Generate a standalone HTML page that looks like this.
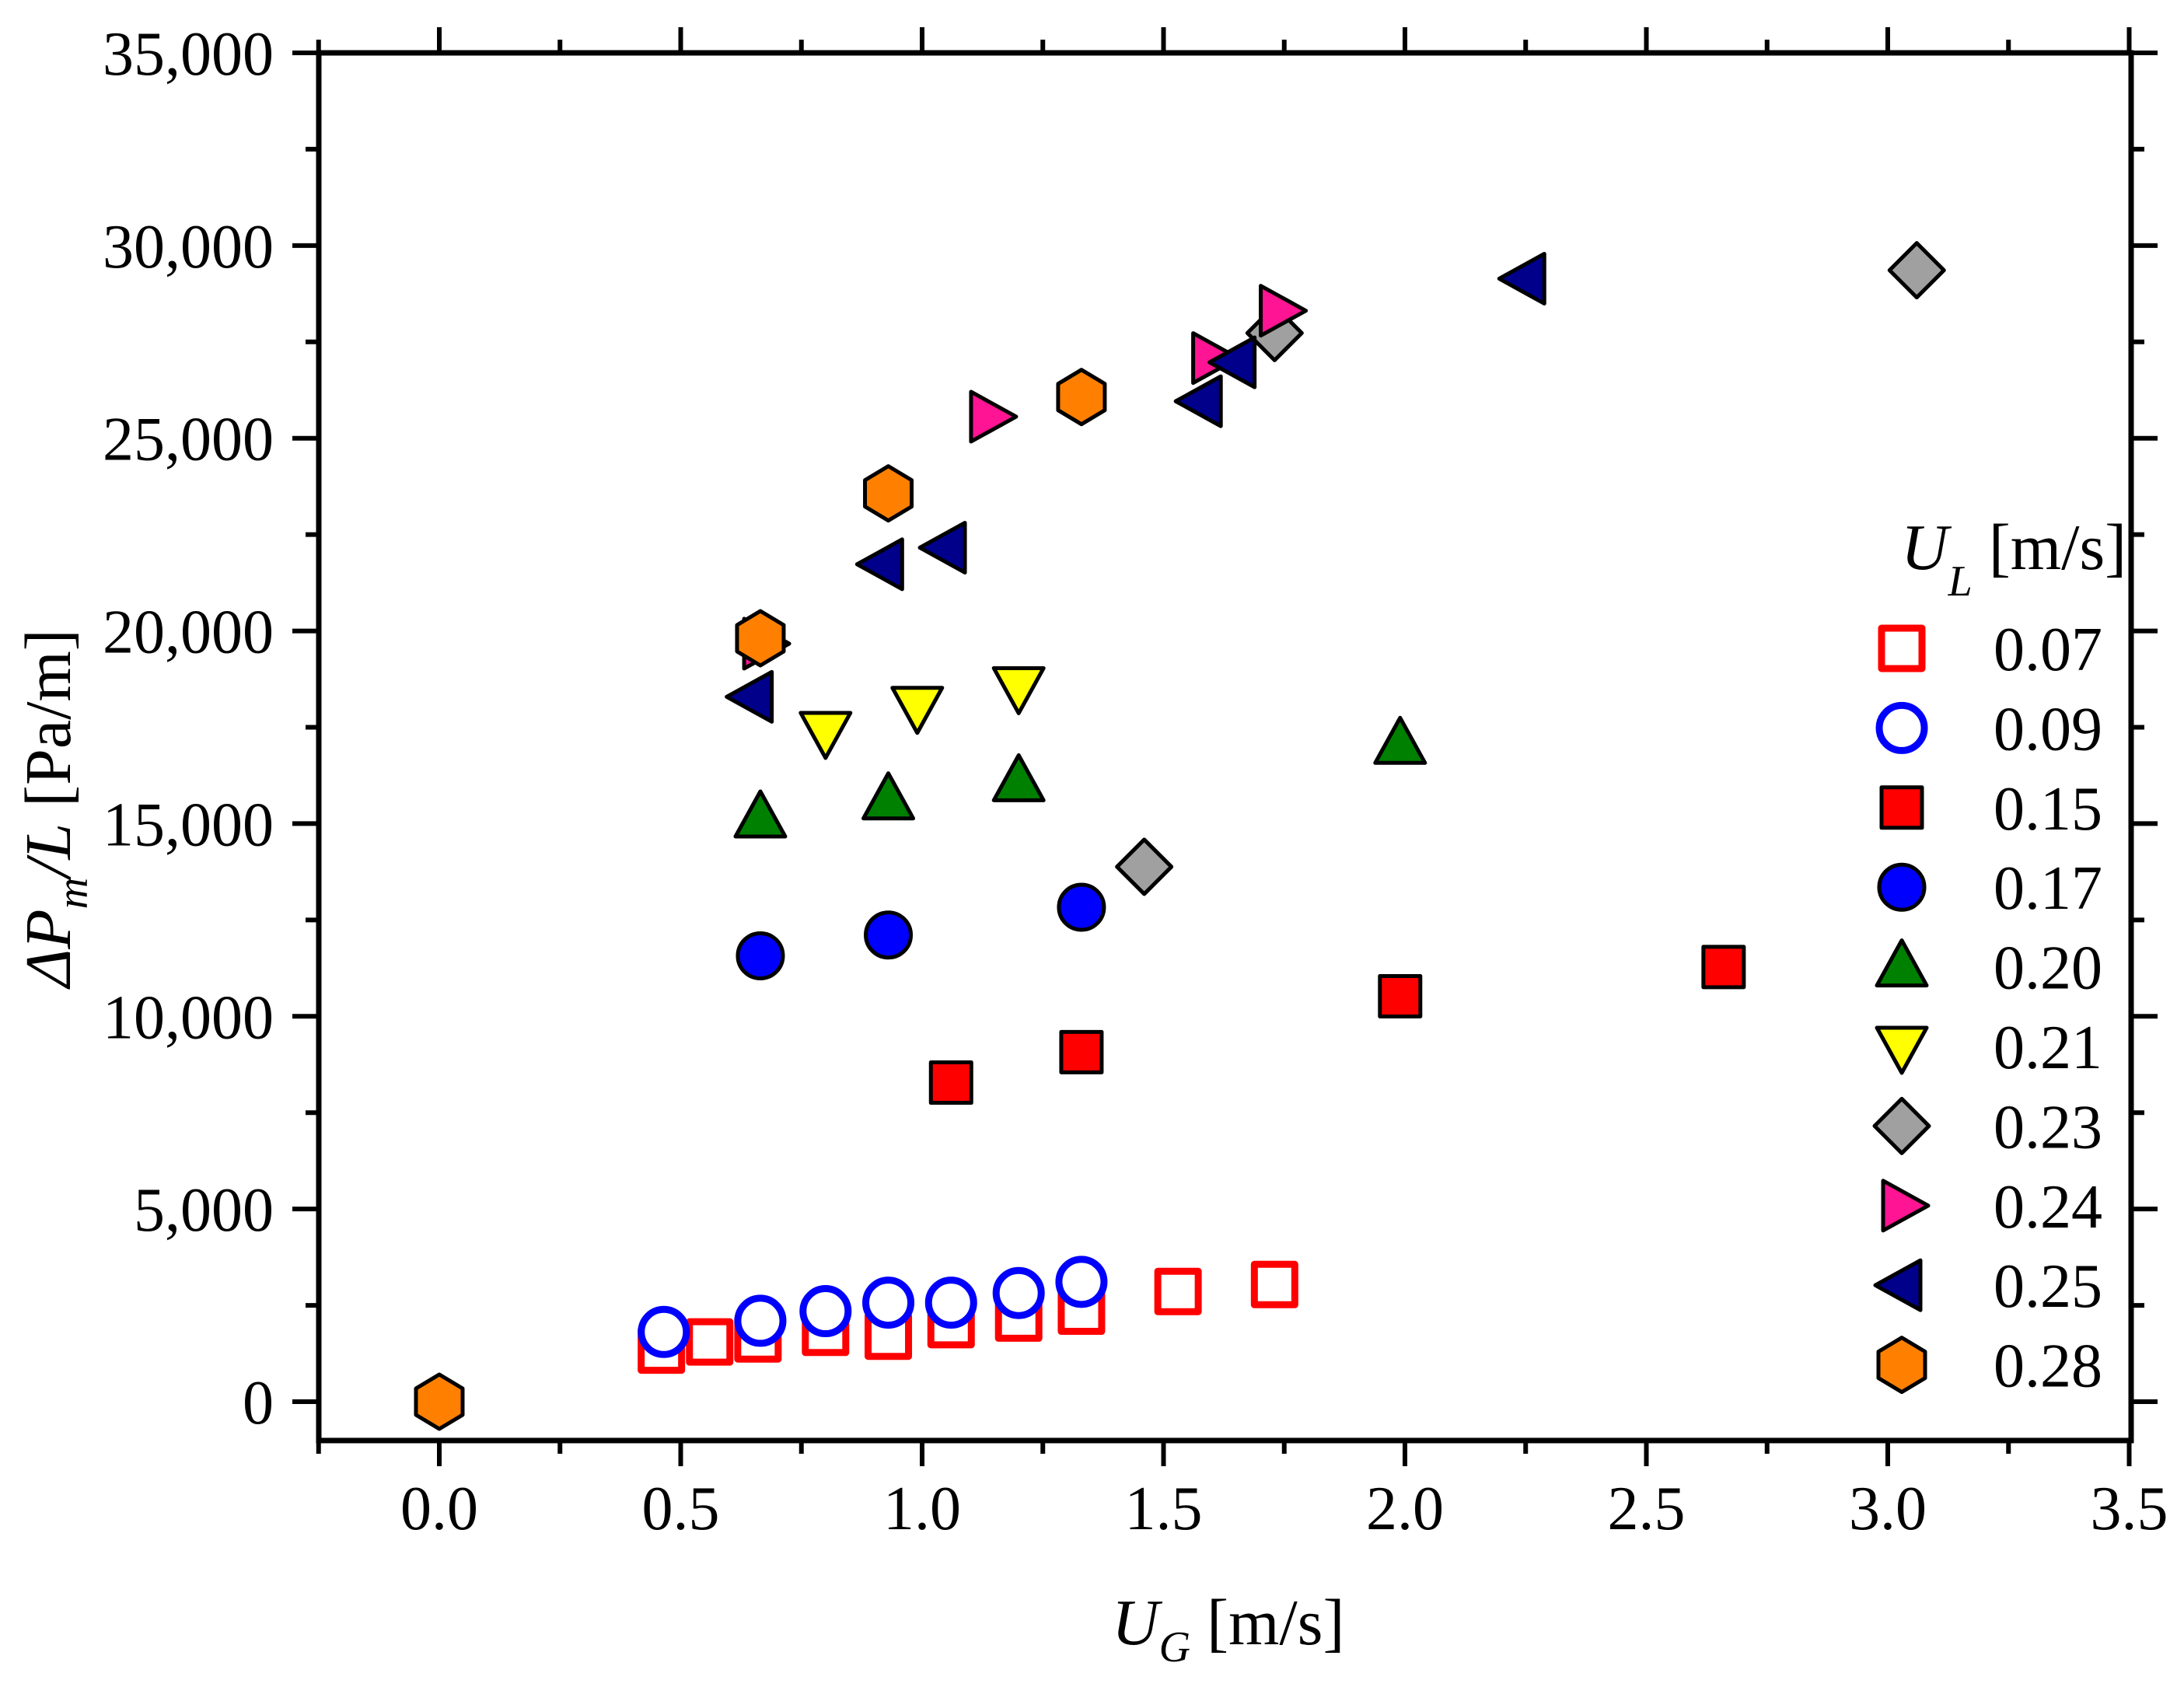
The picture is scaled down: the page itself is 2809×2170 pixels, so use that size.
<!DOCTYPE html>
<html><head><meta charset="utf-8"><style>
html,body{margin:0;padding:0;background:#fff;}
svg{display:block;font-family:"Liberation Serif",serif;}
</style></head><body>
<svg id="chart" width="2809" height="2170" viewBox="0 0 2809 2170" xmlns="http://www.w3.org/2000/svg">
<g id="axes"></g>
<g id="marks"></g>
<g id="legend"></g>
<text x="1430" y="2115" font-size="84"><tspan font-style="italic">U</tspan><tspan font-style="italic" font-size="56" dy="22">G</tspan><tspan dy="-22"> [m/s]</tspan></text>
<text transform="translate(90,1270) rotate(-90)" font-size="84"><tspan font-style="italic">ΔP</tspan><tspan font-style="italic" font-size="56" dy="22">m</tspan><tspan dy="-22" font-style="italic">/L</tspan><tspan> [Pa/m]</tspan></text>
</svg>
<script>
const xTicks = [0.0, 0.5, 1.0, 1.5, 2.0, 2.5, 3.0, 3.5];
const xTickLabels = ["0.0","0.5","1.0","1.5","2.0","2.5","3.0","3.5"];
const yTicks = [0, 5000, 10000, 15000, 20000, 25000, 30000, 35000];
const yTickLabels = ["0","5,000","10,000","15,000","20,000","25,000","30,000","35,000"];
const seriesNames = ["0.07","0.09","0.15","0.17","0.20","0.21","0.23","0.24","0.25","0.28"];
const s007x = [0.46,0.56,0.66,0.80,0.93,1.06,1.20,1.33,1.53,1.73];
const s007y = [1340,1550,1630,1800,1700,2000,2170,2350,2860,3040];
const s009x = [0.465,0.665,0.80,0.93,1.06,1.20,1.33];
const s009y = [1810,2100,2350,2570,2570,2820,3110];
const s015x = [1.06,1.33,1.99,2.66];
const s015y = [8280,9070,10520,11280];
const s017x = [0.665,0.93,1.33];
const s017y = [11570,12110,12830];
const s020x = [0.665,0.93,1.20,1.99];
const s020y = [15150,15620,16090,17060];
const s021x = [0.80,0.99,1.20];
const s021y = [17390,18040,18550];
const s023x = [1.46,1.73,3.06];
const s023y = [13880,27730,29360];
const s024x = [0.67,1.14,1.60,1.74];
const s024y = [19670,25560,27080,28310];
const s025x = [0.65,0.92,1.05,1.58,1.65,2.25];
const s025y = [18290,21730,22160,25960,26970,29140];
const s028x = [0.0,0.665,0.93,1.33];
const s028y = [0,19810,23570,26070];

const NS="http://www.w3.org/2000/svg";
const L=410,R=2741,T=68;
const X0=565, XU=621;
const Y0=1803, YU=(1803-68)/35000;
const B=Y0+1008*YU;
function sx(v){return X0+v*XU;}
function sy(v){return Y0-v*YU;}
function mk(tag,attrs,parent){const e=document.createElementNS(NS,tag);for(const k in attrs)e.setAttribute(k,attrs[k]);parent.appendChild(e);return e;}
const axes=document.getElementById('axes');
const frame=mk('rect',{x:L,y:T,width:R-L,height:B-T,fill:'none',stroke:'#000','stroke-width':7},axes);


for(let i=0;i<xTicks.length;i++){
  const x=sx(xTicks[i]);
  const t1=mk('line',{x1:x,y1:B,x2:x,y2:B+33,stroke:'#000','stroke-width':6},axes);
  
  
  const t2=mk('line',{x1:x,y1:T,x2:x,y2:T-33,stroke:'#000','stroke-width':6},axes);
  
  
  const lb=mk('text',{x:x,y:1967,'font-size':80,'text-anchor':'middle'},axes);
  lb.textContent=xTickLabels[i];
  
  
}
for(let v=-0.25;v<3.5;v+=0.5){
  const x=sx(v);
  const m1=mk('line',{x1:x,y1:B,x2:x,y2:B+17,stroke:'#000','stroke-width':6},axes);
  
  
  const m2=mk('line',{x1:x,y1:T,x2:x,y2:T-17,stroke:'#000','stroke-width':6},axes);
  
  
}
for(let i=0;i<yTicks.length;i++){
  const y=sy(yTicks[i]);
  const t1=mk('line',{x1:L,y1:y,x2:L-34,y2:y,stroke:'#000','stroke-width':6},axes);
  
  
  const t2=mk('line',{x1:R,y1:y,x2:R+34,y2:y,stroke:'#000','stroke-width':6},axes);
  
  
  const lb=mk('text',{x:352,y:y+28,'font-size':80,'text-anchor':'end'},axes);
  lb.textContent=yTickLabels[i];
  
  
}
for(let v=2500;v<35000;v+=5000){
  const y=sy(v);
  const m1=mk('line',{x1:L,y1:y,x2:L-17,y2:y,stroke:'#000','stroke-width':6},axes);
  
  
  const m2=mk('line',{x1:R,y1:y,x2:R+17,y2:y,stroke:'#000','stroke-width':6},axes);
  
  
}
const styles=[
 {shape:'square',fill:'#fff',stroke:'#ff0000',sw:9},
 {shape:'circle',fill:'#fff',stroke:'#0000ff',sw:9},
 {shape:'square',fill:'#ff0000',stroke:'#000',sw:5},
 {shape:'circle',fill:'#0000ff',stroke:'#000',sw:5},
 {shape:'up',fill:'#008000',stroke:'#000',sw:5},
 {shape:'down',fill:'#ffff00',stroke:'#000',sw:5},
 {shape:'diamond',fill:'#a0a0a0',stroke:'#000',sw:5},
 {shape:'right',fill:'#ff1493',stroke:'#000',sw:5},
 {shape:'left',fill:'#00008b',stroke:'#000',sw:5},
 {shape:'hex',fill:'#ff8000',stroke:'#000',sw:5}
];
function marker(st,x,y,parent){
  const a={fill:st.fill,stroke:st.stroke,'stroke-width':st.sw,'stroke-linejoin':'round'};
  let e;
  if(st.shape==='square'){e=mk('rect',Object.assign({x:x-26,y:y-26,width:52,height:52},a),parent);}
  else if(st.shape==='circle'){e=mk('circle',Object.assign({cx:x,cy:y,r:29},a),parent);}
  else{
    let p;
    if(st.shape==='up')p=[[0,-34],[32,24],[-32,24]];
    else if(st.shape==='down')p=[[0,34],[32,-24],[-32,-24]];
    else if(st.shape==='right')p=[[34,0],[-24,-32],[-24,32]];
    else if(st.shape==='left')p=[[-34,0],[24,-32],[24,32]];
    else if(st.shape==='diamond')p=[[0,-35],[35,0],[0,35],[-35,0]];
    else p=[[0,-35],[30,-17],[30,17],[0,35],[-30,17],[-30,-17]];
    e=mk('polygon',Object.assign({points:p.map(q=>(x+q[0])+','+(y+q[1])).join(' ')},a),parent);
  }
  return e;
}
const xs=[s007x,s009x,s015x,s017x,s020x,s021x,s023x,s024x,s025x,s028x];
const ys=[s007y,s009y,s015y,s017y,s020y,s021y,s023y,s024y,s025y,s028y];
const marks=document.getElementById('marks');
for(let s=0;s<xs.length;s++){
  const g=mk('g',{},marks);
  
  
  for(let i=0;i<xs[s].length;i++){
    const m=marker(styles[s],sx(xs[s][i]),sy(ys[s][i]),g);
    
    
  }
}
const lg=document.getElementById('legend');
const tt=mk('text',{x:2445,y:732,'font-size':84},lg);
tt.innerHTML='<tspan font-style="italic">U</tspan><tspan font-style="italic" font-size="56" dy="34">L</tspan><tspan dy="-34"> [m/s]</tspan>';


for(let s=0;s<seriesNames.length;s++){
  const cy=834+s*102.4;
  const m=marker(styles[s],2446,cy,lg);
  
  
  const t=mk('text',{x:2564,y:cy+28,'font-size':80},lg);
  t.textContent=seriesNames[s];
  
  
}
</script>
</body></html>
